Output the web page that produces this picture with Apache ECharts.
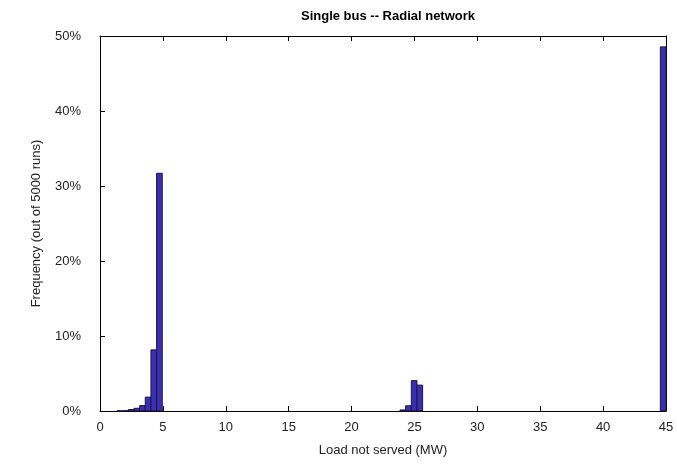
<!DOCTYPE html>
<html>
<head>
<meta charset="utf-8">
<script src="https://cdn.jsdelivr.net/npm/echarts@6/dist/echarts.min.js"></script>
<style>
  html, body { margin: 0; padding: 0; background: #fff; }
  #chart { width: 677px; height: 465px; }
</style>
</head>
<body>
<div id="chart"></div>
<script>
// histogram bins (MW), width 0.45, only the non-empty ones
var binStart = [1.35, 1.8, 2.25, 2.7, 3.15, 3.6, 4.05, 4.5, 23.85, 24.3, 24.75, 25.2, 44.55];
var binEnd   = [1.8, 2.25, 2.7, 3.15, 3.6, 4.05, 4.5, 4.95, 24.3, 24.75, 25.2, 25.65, 45];
// frequency in % of 5000 runs
var freq     = [0.02, 0.04, 0.2, 0.36, 0.72, 1.85, 8.15, 31.7, 0.14, 0.7, 4.05, 3.45, 48.55];

var xTicks = [0, 45, 5];   // min, max, step
var yTicks = [0, 50, 10];

var chart = echarts.init(document.getElementById('chart'));

var data = [];
for (var i = 0; i < freq.length; i++) {
    data.push([binStart[i], binEnd[i], freq[i]]);
}

var font = 'Liberation Sans, Arial, sans-serif';

// matlab style box: line on every side, ticks pointing in
function axisCommon() {
    return {
        axisLine: { show: true, onZero: false, lineStyle: { color: '#000', width: 1 } },
        axisTick: { show: true, inside: true, length: 5, lineStyle: { color: '#000' } },
        splitLine: { show: false }
    };
}

chart.setOption({
    animation: false,
    title: {
        text: 'Single bus -- Radial network',
        left: 383, top: 5, textAlign: 'center',
        textStyle: { fontFamily: font, fontSize: 13, fontWeight: 'bold', color: '#000' }
    },
    grid: { left: 100, right: 11, top: 36, bottom: 54 },
    xAxis: [
        Object.assign(axisCommon(), {
            type: 'value', position: 'bottom', min: xTicks[0], max: xTicks[1], interval: xTicks[2],
            name: 'Load not served (MW)', nameLocation: 'middle', nameGap: 33,
            nameTextStyle: { fontFamily: font, fontSize: 13, color: '#222' },
            axisLabel: { margin: 10, fontFamily: font, fontSize: 13, color: '#222' }
        }),
        Object.assign(axisCommon(), {
            type: 'value', position: 'top', min: xTicks[0], max: xTicks[1], interval: xTicks[2],
            axisLabel: { show: false }
        })
    ],
    yAxis: [
        Object.assign(axisCommon(), {
            type: 'value', position: 'left', min: yTicks[0], max: yTicks[1], interval: yTicks[2],
            name: 'Frequency (out of 5000 runs)', nameLocation: 'middle', nameGap: 57,
            nameTextStyle: { fontFamily: font, fontSize: 13, color: '#222' },
            axisLabel: { margin: 19, fontFamily: font, fontSize: 13, color: '#222', formatter: '{value}%' }
        }),
        Object.assign(axisCommon(), {
            type: 'value', position: 'right', min: yTicks[0], max: yTicks[1], interval: yTicks[2],
            axisLabel: { show: false }
        })
    ],
    series: [{
        type: 'custom',
        xAxisIndex: 0, yAxisIndex: 0,
        encode: { x: [0, 1], y: 2 },
        data: data,
        renderItem: function (params, api) {
            var p0 = api.coord([api.value(0), api.value(2)]);
            var p1 = api.coord([api.value(1), 0]);
            return {
                type: 'rect',
                shape: { x: p0[0], y: p0[1], width: p1[0] - p0[0], height: p1[1] - p0[1] },
                style: { fill: '#3a2fb0', stroke: '#1c1640', lineWidth: 1 }
            };
        }
    }]
});
</script>
</body>
</html>
